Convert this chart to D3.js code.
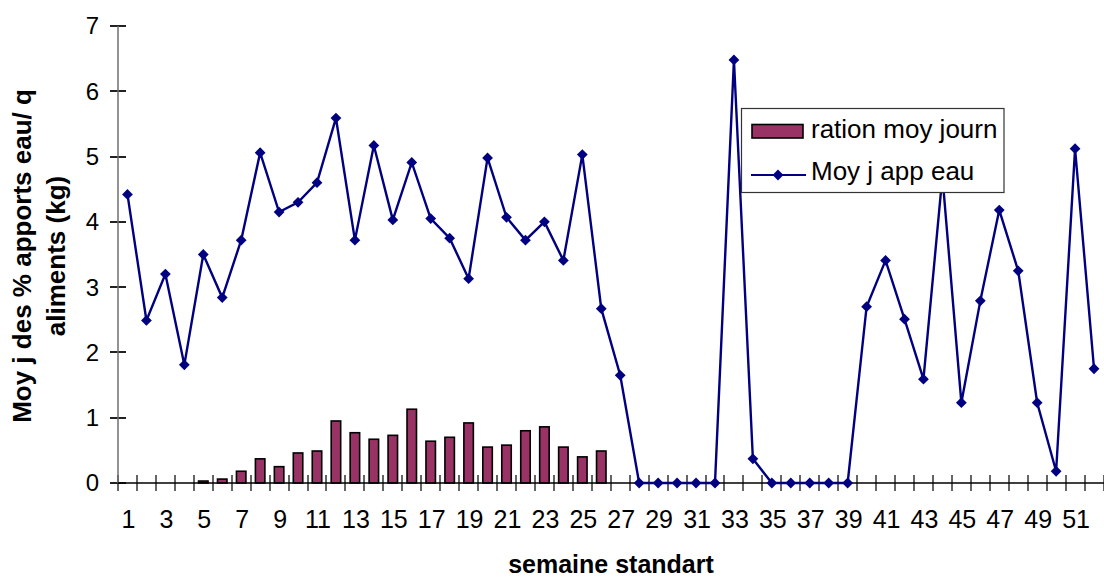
<!DOCTYPE html>
<html>
<head>
<meta charset="utf-8">
<script src="https://cdn.jsdelivr.net/npm/d3@7"></script>
<style>
  html, body { margin: 0; padding: 0; background: #fff; }
  svg { display: block; font-family: Arial, "Liberation Sans", sans-serif; }
</style>
</head>
<body>
<svg id="chart" width="1104" height="579"></svg>
<script>
// Weekly series: standard week number, daily ration and daily water intake share
const weeks = [1,2,3,4,5,6,7,8,9,10,11,12,13,14,15,16,17,18,19,20,21,22,23,24,25,26,
               27,28,29,30,31,32,33,34,35,36,37,38,39,40,41,42,43,44,45,46,47,48,49,50,51,52];

const rationMoyJourn = [null,null,null,null,0.03,0.06,0.18,0.37,0.25,0.46,0.49,0.95,0.77,
                        0.67,0.73,1.13,0.64,0.70,0.92,0.55,0.58,0.80,0.86,0.55,0.40,0.49,
                        null,null,null,null,null,null,null,null,null,null,null,null,null,
                        null,null,null,null,null,null,null,null,null,null,null,null,null];

const moyJAppEau = [4.42,2.49,3.20,1.81,3.50,2.84,3.72,5.06,4.15,4.30,4.60,5.59,3.72,
                    5.17,4.03,4.91,4.05,3.75,3.13,4.98,4.07,3.72,4.00,3.41,5.03,2.67,
                    1.65,0,0,0,0,0,6.48,0.37,0,0,0,0,0,2.70,3.41,2.51,1.59,4.70,
                    1.23,2.79,4.18,3.25,1.23,0.18,5.12,1.75];

const yTicks = [0,1,2,3,4,5,6,7];
const xTickLabels = weeks.filter(w => w % 2 === 1);

const seriesNames = ["ration moy journ", "Moy j app eau"];
const yTitleLines = ["Moy j des % apports eau/ q", "aliments (kg)"];
const xTitle = "semaine standart";

const barFill = "#993366";
const lineColor = "#000080";

const svg = d3.select("#chart");

const plot = { left: 118, right: 1103.5, top: 26, bottom: 483 };

const x = d3.scaleBand().domain(weeks).range([plot.left, plot.right]).paddingInner(0).paddingOuter(0);
const y = d3.scaleLinear().domain([0, 7]).range([plot.bottom, plot.top]);

const step = x.step();
const barW = step * 0.5;

// Axis tick marks, drawn first so the marks sit above them
const boundaries = weeks.map(w => x(w)).concat([x(weeks[weeks.length - 1]) + step]);
const ticks = svg.append("g");
ticks.selectAll("rect.xt")
  .data(boundaries)
  .join("rect")
  .attr("class", "xt")
  .attr("x", d => Math.round(d) - 1)
  .attr("y", plot.bottom - 8)
  .attr("width", 2)
  .attr("height", 16)
  .attr("fill", "#666");
ticks.selectAll("rect.yt")
  .data(yTicks)
  .join("rect")
  .attr("class", "yt")
  .attr("x", plot.left - 8)
  .attr("y", d => Math.round(y(d)) - 1)
  .attr("width", 16)
  .attr("height", 2)
  .attr("fill", "#222");

// Bars
svg.append("g")
  .selectAll("rect")
  .data(weeks.map((w, i) => ({ w, v: rationMoyJourn[i] })).filter(d => d.v !== null))
  .join("rect")
  .attr("x", d => x(d.w) + (step - barW) / 2)
  .attr("width", barW)
  .attr("y", d => y(d.v))
  .attr("height", d => y(0) - y(d.v))
  .attr("fill", barFill)
  .attr("stroke", "#000")
  .attr("stroke-width", 1.6);

// Axis lines
svg.append("path")
  .attr("d", `M${plot.left},${y(7)}V${y(0)}`)
  .attr("fill", "none")
  .attr("stroke", "#6e6e6e").attr("stroke-width", 1.5);
svg.append("path")
  .attr("d", `M${plot.left},${y(0)}H${plot.right + 1}`)
  .attr("fill", "none")
  .attr("stroke", "#000").attr("stroke-width", 1.6);

// Tick labels
svg.append("g").selectAll("text")
  .data(yTicks)
  .join("text")
  .attr("x", 99)
  .attr("y", d => y(d))
  .attr("dy", "0.35em")
  .attr("text-anchor", "end")
  .attr("font-size", 24)
  .text(d3.format("d"));

svg.append("g").selectAll("text")
  .data(xTickLabels)
  .join("text")
  .attr("x", d => x(d) + step / 2 + 1)
  .attr("y", 528)
  .attr("text-anchor", "middle")
  .attr("font-size", 25)
  .text(d => d);

// Line series
const lineData = weeks.map((w, i) => ({ w, v: moyJAppEau[i] }));
const line = d3.line().x(d => x(d.w) + step / 2).y(d => y(d.v));
svg.append("path")
  .datum(lineData)
  .attr("d", line)
  .attr("fill", "none")
  .attr("stroke", lineColor)
  .attr("stroke-width", 2.4)
  .attr("stroke-linejoin", "miter");

const diamond = d3.symbol().type(d3.symbolDiamond2).size(74);
svg.append("g")
  .selectAll("path")
  .data(lineData)
  .join("path")
  .attr("transform", d => `translate(${x(d.w) + step / 2},${y(d.v)})`)
  .attr("d", diamond)
  .attr("fill", lineColor);

// Legend
const lg = svg.append("g");
lg.append("rect")
  .attr("x", 741.5).attr("y", 108.5)
  .attr("width", 262.5).attr("height", 84)
  .attr("fill", "#fff").attr("stroke", "#333").attr("stroke-width", 1.2);
lg.append("rect")
  .attr("x", 752).attr("y", 124.5)
  .attr("width", 51).attr("height", 13.5)
  .attr("fill", barFill).attr("stroke", "#000").attr("stroke-width", 1.6);
lg.append("text")
  .attr("x", 811).attr("y", 137.5)
  .attr("font-size", 26)
  .text(seriesNames[0]);
lg.append("path")
  .attr("d", "M751,175H806")
  .attr("stroke", lineColor).attr("stroke-width", 2.2);
lg.append("path")
  .attr("transform", "translate(778,175)")
  .attr("d", diamond)
  .attr("fill", lineColor);
lg.append("text")
  .attr("x", 811).attr("y", 180)
  .attr("font-size", 26)
  .text(seriesNames[1]);

// Axis titles
const yt = svg.append("text")
  .attr("transform", "translate(31,256) rotate(-90)")
  .attr("text-anchor", "middle")
  .attr("font-size", 26)
  .attr("font-weight", "bold");
yt.selectAll("tspan")
  .data(yTitleLines)
  .join("tspan")
  .attr("x", 0)
  .attr("dy", (d, i) => i === 0 ? 0 : 34)
  .text(d => d);

svg.append("text")
  .attr("x", 611).attr("y", 573)
  .attr("text-anchor", "middle")
  .attr("font-size", 25)
  .attr("font-weight", "bold")
  .text(xTitle);
</script>
</body>
</html>
